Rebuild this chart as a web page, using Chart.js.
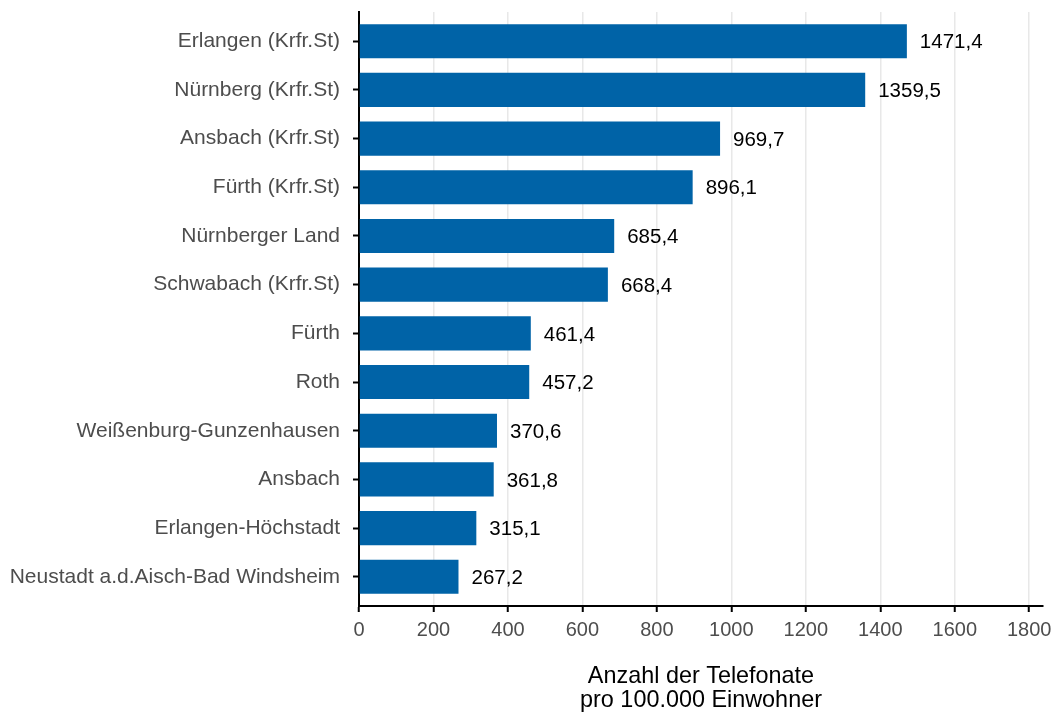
<!DOCTYPE html>
<html>
<head>
<meta charset="utf-8">
<script src="https://cdn.jsdelivr.net/npm/chart.js@4"></script>
<style>
  html, body { margin: 0; padding: 0; background: #fff; }
  #wrap { width: 1052px; height: 713px; }
</style>
</head>
<body>
<div id="wrap"><canvas id="telefonChart" width="1052" height="713"></canvas></div>
<script>
// Kategorien und Werte
const regionen = [
    'Erlangen (Krfr.St)', 'Nürnberg (Krfr.St)', 'Ansbach (Krfr.St)', 'Fürth (Krfr.St)',
    'Nürnberger Land', 'Schwabach (Krfr.St)', 'Fürth', 'Roth',
    'Weißenburg-Gunzenhausen', 'Ansbach', 'Erlangen-Höchstadt', 'Neustadt a.d.Aisch-Bad Windsheim'
];
const telefonate = [1471.4, 1359.5, 969.7, 896.1, 685.4, 668.4, 461.4, 457.2, 370.6, 361.8, 315.1, 267.2];
const xTicks = [0, 200, 400, 600, 800, 1000, 1200, 1400, 1600, 1800];

const schrift = "'Liberation Sans', Arial, sans-serif";

// Werte rechts neben die Balken schreiben
const wertLabels = {
    id: 'wertLabels',
    afterDatasetsDraw(chart) {
        const ctx = chart.ctx;
        const meta = chart.getDatasetMeta(0);
        ctx.save();
        ctx.font = '20.5px ' + schrift;
        ctx.fillStyle = '#000';
        ctx.textAlign = 'left';
        ctx.textBaseline = 'middle';
        meta.data.forEach(function(bar, i) {
            ctx.fillText(telefonate[i].toFixed(1).replace('.', ','), bar.x + 13, bar.y + 1.5);
        });
        ctx.restore();
    }
};

new Chart(document.getElementById('telefonChart'), {
    type: 'bar',
    data: {
        labels: regionen,
        datasets: [{
            data: telefonate,
            backgroundColor: '#0063A7',
            borderWidth: 0,
            categoryPercentage: 0.7,
            barPercentage: 1.0
        }]
    },
    options: {
        indexAxis: 'y',
        responsive: false,
        animation: false,
        layout: { padding: { top: 12, right: 9, left: 0, bottom: 0 } },
        plugins: { legend: { display: false }, tooltip: { enabled: false } },
        scales: {
            x: {
                min: 0,
                max: 1837,
                afterBuildTicks(scale) { scale.ticks = xTicks.map(v => ({ value: v })); },
                afterFit(scale) {
                    scale.height = 107;
                    scale.paddingLeft = 0;
                    scale.paddingRight = 0;
                },
                ticks: {
                    color: '#4d4d4d',
                    font: { family: schrift, size: 20 },
                    padding: 6,
                    maxRotation: 0,
                    callback: v => String(v)
                },
                grid: {
                    color: '#e8e8e8',
                    lineWidth: 1.5,
                    tickColor: '#000',
                    tickLength: 6,
                    tickWidth: 2
                },
                border: { color: '#000', width: 2 },
                title: {
                    display: true,
                    text: ['Anzahl der Telefonate', 'pro 100.000 Einwohner'],
                    color: '#000',
                    font: { family: schrift, size: 23.4, lineHeight: 1.01 },
                    padding: { top: 25, bottom: 1 }
                }
            },
            y: {
                // 0,6 Kategorien Rand oben und unten
                afterBuildTicks(scale) {
                    scale._startValue = -0.6;
                    scale._valueRange = regionen.length - 1 + 1.2;
                },
                afterFit(scale) {
                    scale.width = 359;
                    scale.paddingTop = 0;
                    scale.paddingBottom = 0;
                },
                ticks: {
                    color: '#4d4d4d',
                    font: { family: schrift, size: 21 },
                    padding: 13
                },
                grid: {
                    offset: false,
                    drawOnChartArea: false,
                    tickColor: '#000',
                    tickLength: 6,
                    tickWidth: 2
                },
                border: { color: '#000', width: 2 }
            }
        }
    },
    plugins: [wertLabels]
});
</script>
</body>
</html>
